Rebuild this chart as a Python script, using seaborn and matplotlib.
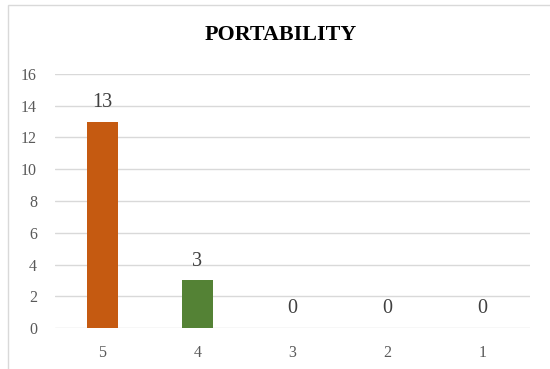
import matplotlib
matplotlib.use("Agg")
import matplotlib.pyplot as plt
import seaborn as sns
import pandas as pd
from matplotlib.patches import Rectangle

# Survey responses for portability (rating -> number of respondents)
ratings = ["5", "4", "3", "2", "1"]
counts = [13, 3, 0, 0, 0]
bar_colors = ["#C55A11", "#548235", "#4472C4", "#7F7F7F", "#FFC000"]
y_ticks = [0, 2, 4, 6, 8, 10, 12, 14, 16]

df = pd.DataFrame({"rating": ratings, "count": counts})

sns.set_theme(style="white")
plt.rcParams["font.family"] = ["Liberation Serif", "DejaVu Serif"]

fig = plt.figure(figsize=(5.5, 3.69), dpi=100)
ax = fig.add_axes([0.1, 0.111, 0.8636, 0.6885])

sns.barplot(data=df, x="rating", y="count", hue="rating", order=ratings,
            hue_order=ratings, palette=bar_colors, width=0.316,
            legend=False, ax=ax, saturation=1, linewidth=0)

ax.set_ylim(0, 16)
ax.set_xlim(-0.5, 4.5)
ax.set_yticks(y_ticks)
ax.yaxis.grid(True, color="#D9D9D9", linewidth=1.0)
ax.set_axisbelow(True)
for s in ax.spines.values():
    s.set_visible(False)
ax.tick_params(axis="both", length=0, labelsize=11.5, labelcolor="#595959")
ax.tick_params(axis="x", pad=12)
ax.tick_params(axis="y", pad=13)
ax.set_xlabel("")
ax.set_ylabel("")

for container in ax.containers:
    ax.bar_label(container, fmt="%d", padding=7, fontsize=14.5, color="#404040")

fig.text(0.511, 0.905, "PORTABILITY", ha="center", va="center",
         fontsize=15.8, fontweight="bold", color="black")

# chart frame
fig.patches.append(Rectangle((8 / 550, -0.1), 1.0, 1 - 5 / 369 + 0.1,
                             transform=fig.transFigure, fill=False,
                             edgecolor="#D9D9D9", linewidth=1.0))

fig.savefig("out.png", dpi=100, facecolor="white")
